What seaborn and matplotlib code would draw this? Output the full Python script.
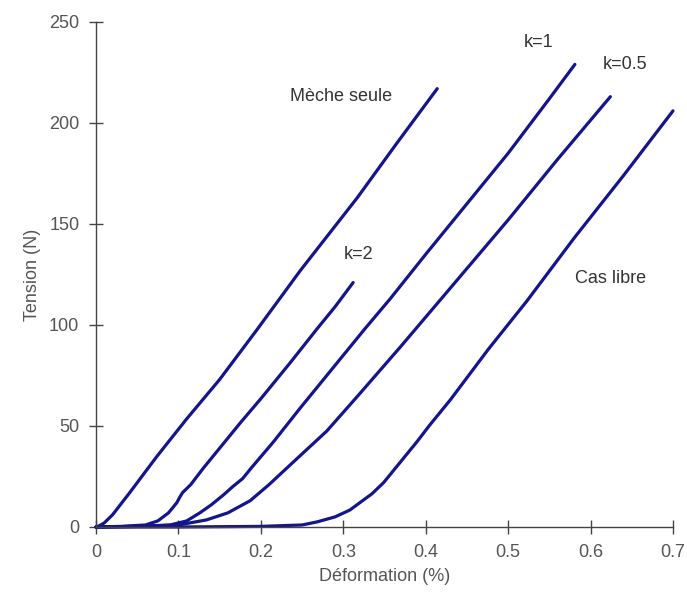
import numpy as np
import pandas as pd
import matplotlib
matplotlib.use("Agg")
import matplotlib.pyplot as plt
import seaborn as sns

# ---- data ----
meche_x = [0.0, 0.004, 0.01, 0.02, 0.04, 0.074, 0.11, 0.15, 0.195, 0.248, 0.317, 0.365, 0.414]
meche_y = [0.0, 0.6, 2.0, 6.0, 16.5, 35.0, 53.5, 73.0, 97.5, 127.0, 163.0, 190.0, 217.0]

k2_x = [0.0, 0.03, 0.06, 0.075, 0.088, 0.098, 0.102, 0.105, 0.115, 0.130, 0.150, 0.175,
        0.201, 0.235, 0.268, 0.29, 0.312]
k2_y = [0.0, 0.3, 1.0, 3.0, 7.0, 12.0, 15.0, 17.0, 21.0, 29.0, 39.0, 51.5,
        64.0, 81.0, 98.0, 109.0, 121.0]

k1_x = [0.0, 0.05, 0.09, 0.11, 0.126, 0.14, 0.155, 0.166, 0.172, 0.178, 0.19, 0.215,
        0.248, 0.28, 0.326, 0.357, 0.40, 0.45, 0.50, 0.55, 0.581]
k1_y = [0.0, 0.3, 1.0, 3.0, 7.0, 11.0, 16.0, 20.0, 22.0, 24.0, 30.0, 42.0,
        59.0, 75.0, 98.0, 113.0, 135.0, 160.0, 185.0, 212.0, 229.0]

k05_x = [0.0, 0.05, 0.10, 0.134, 0.16, 0.187, 0.21, 0.235, 0.28, 0.32, 0.369, 0.421,
         0.50, 0.56, 0.624]
k05_y = [0.0, 0.3, 1.0, 3.5, 7.0, 13.0, 21.0, 30.5, 47.5, 66.0, 89.0, 114.0,
         152.0, 182.0, 213.0]

libre_x = [0.0, 0.10, 0.20, 0.25, 0.268, 0.29, 0.308, 0.32, 0.335, 0.349, 0.369, 0.389,
           0.405, 0.43, 0.476, 0.523, 0.58, 0.64, 0.70]
libre_y = [0.0, 0.0, 0.3, 1.0, 2.5, 5.0, 8.4, 12.0, 16.5, 22.0, 32.0, 42.0,
           50.5, 63.0, 88.0, 112.0, 143.0, 174.0, 206.0]

curve_names = ["Mèche seule", "k=2", "k=1", "k=0.5", "Cas libre"]
x_ticks = [0, 0.1, 0.2, 0.3, 0.4, 0.5, 0.6, 0.7]
x_tick_labels = ["0", "0.1", "0.2", "0.3", "0.4", "0.5", "0.6", "0.7"]
y_ticks = [0, 50, 100, 150, 200, 250]

series = [(meche_x, meche_y), (k2_x, k2_y), (k1_x, k1_y), (k05_x, k05_y), (libre_x, libre_y)]
frames = []
for name, (xs, ys) in zip(curve_names, series):
    frames.append(pd.DataFrame({"Déformation (%)": xs, "Tension (N)": ys, "courbe": name}))
df = pd.concat(frames, ignore_index=True)

sns.set_style("white")
plt.rcParams["font.family"] = ["Liberation Sans", "DejaVu Sans"]

line_color = "#14148c"
text_color = "#555555"

fig = plt.figure(figsize=(6.87, 5.94), dpi=100)
ax = fig.add_axes([0.1397, 0.1128, 0.8399, 0.8502])

sns.lineplot(data=df, x="Déformation (%)", y="Tension (N)", hue="courbe",
             palette={n: line_color for n in curve_names}, sort=False,
             estimator=None, linewidth=2.3, legend=False, ax=ax)
for ln in ax.lines:
    ln.set_solid_joinstyle("round")
    ln.set_solid_capstyle("round")
    ln.set_clip_on(False)

ax.set_xlim(0, 0.7)
ax.set_ylim(0, 250)
ax.set_xticks(x_ticks)
ax.set_xticklabels(x_tick_labels)
ax.set_yticks(y_ticks)
ax.tick_params(axis="both", which="major", bottom=True, left=True, direction="inout",
               length=10, width=1.0, colors="#444444", labelcolor=text_color,
               labelsize=13, pad=7)
for s in ["top", "right"]:
    ax.spines[s].set_visible(False)
for s in ["left", "bottom"]:
    ax.spines[s].set_color("#444444")
    ax.spines[s].set_linewidth(1.0)
ax.set_xlabel("Déformation (%)", fontsize=13, color=text_color, labelpad=5)
ax.set_ylabel("Tension (N)", fontsize=13, color=text_color, labelpad=6)

labels = [("Mèche seule", 0.297, 213), ("k=1", 0.537, 240), ("k=0.5", 0.642, 229),
          ("k=2", 0.319, 135), ("Cas libre", 0.624, 123)]
for t, lx, ly in labels:
    ax.text(lx, ly, t, fontsize=13, color="#333333", ha="center", va="center")

fig.savefig("out.png", dpi=100, facecolor="white")
